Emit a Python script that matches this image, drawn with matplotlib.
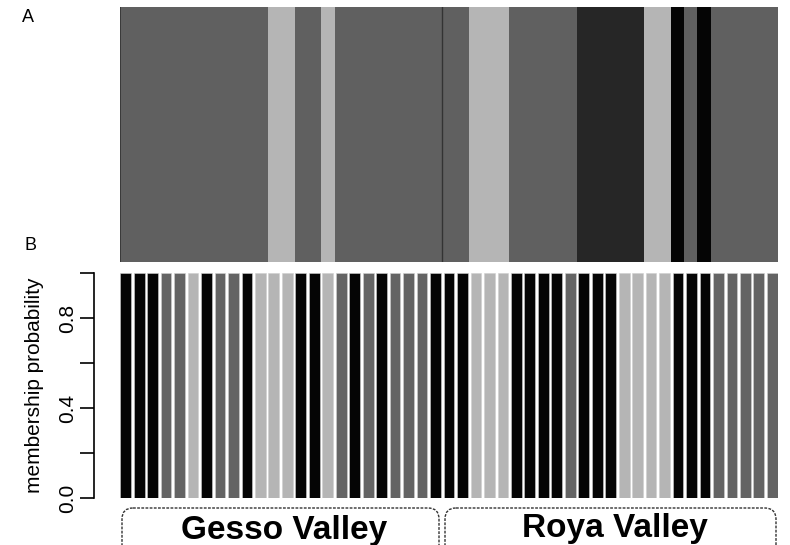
import matplotlib.pyplot as plt
from matplotlib.patches import FancyBboxPatch
import numpy as np

# 49 individuals: first 24 from Gesso Valley, last 25 from Roya Valley
populations = ["Gesso Valley", "Roya Valley"]
pop_sizes = [24, 25]

# panel A: cluster assigned to each individual (0 grey, 1 light, 2 dark, 3 black)
clusters_a = ([0]*11 + [1]*2 + [0]*2 + [1] + [0]*8 +
              [0]*2 + [1]*3 + [0]*5 + [2]*5 + [1]*2 + [3] + [0] + [3] + [0]*5)
colors_a = ["#606060", "#b5b5b5", "#262626", "#050505"]

# panel B: cluster with membership probability for each individual
# (0 black, 1 grey, 2 light)
clusters_b = [0,0,0,1,1,2,0,1,1,0,2,2,2,0,0,2,1,0,1,0,1,1,1,0,
              0,0,2,2,2,0,0,0,0,1,0,0,0,2,2,2,2,0,0,0,1,1,1,1,1]
membership_b = [1.0]*49
colors_b = ["#050505", "#646464", "#b5b5b5"]

W, H = 790, 545
fig = plt.figure(figsize=(W/100, H/100), dpi=100)
plt.rcParams['font.family'] = ['Liberation Sans', 'DejaVu Sans']

def box(x0, y0, x1, y1):
    return [x0/W, 1-y1/H, (x1-x0)/W, (y1-y0)/H]

n = len(clusters_a)
x = np.arange(n)

# panel A
axa = fig.add_axes(box(120, 7, 778, 262))
axa.bar(x, [1]*n, width=1.0, color=[colors_a[c] for c in clusters_a],
        edgecolor="none")
axa.axvline(-0.5, color="#333333", lw=1.2)
axa.axvline(pop_sizes[0]-0.5, color="#333333", lw=1.0)
axa.set_xlim(-0.5, n-0.5)
axa.set_ylim(0, 1)
axa.axis("off")

# panel B
axb = fig.add_axes(box(120, 273, 778, 498))
axb.bar(x, membership_b, width=0.8, color=[colors_b[c] for c in clusters_b],
        edgecolor="#d0d0d0", linewidth=0.4)
axb.set_xlim(-0.42, n-0.58)
axb.set_ylim(0, 1)
for s in ["top", "right", "bottom"]:
    axb.spines[s].set_visible(False)
axb.spines["left"].set_position(("outward", 18.7))
axb.spines["left"].set_bounds(0, 1)
axb.spines["left"].set_linewidth(1.2)
axb.set_xticks([])
axb.set_yticks([0, 0.2, 0.4, 0.6, 0.8, 1.0])
axb.set_yticklabels(["0.0", "", "0.4", "", "0.8", ""], rotation=90,
                    va="center", fontsize=15)
axb.tick_params(axis="y", length=10, width=1.2, pad=2)
axb.set_ylabel("membership probability", fontsize=15, labelpad=10)

fig.text(28/W, 1-18/H, "A", fontsize=13, ha="center", va="center")
fig.text(30/W, 1-245/H, "B", fontsize=13, ha="center", va="center")

# population brackets
axl = fig.add_axes([0, 0, 1, 45/H])
axl.set_xlim(0, W)
axl.set_ylim(545, 500)
axl.axis("off")
spans = [(122, 439), (445, 776)]
text_x = [284, 615]
text_y = [539, 537]
for (x0, x1), name, tx, ty in zip(spans, populations, text_x, text_y):
    axl.add_patch(FancyBboxPatch((x0, 508), x1-x0, 60,
                                 boxstyle="round,pad=0,rounding_size=11",
                                 fill=False, ls=(0, (2, 1)), lw=1.0,
                                 ec="#333333"))
    axl.text(tx, ty, name, ha="center", va="baseline",
             fontsize=24, fontweight="bold")

fig.savefig("out.png", dpi=100)
